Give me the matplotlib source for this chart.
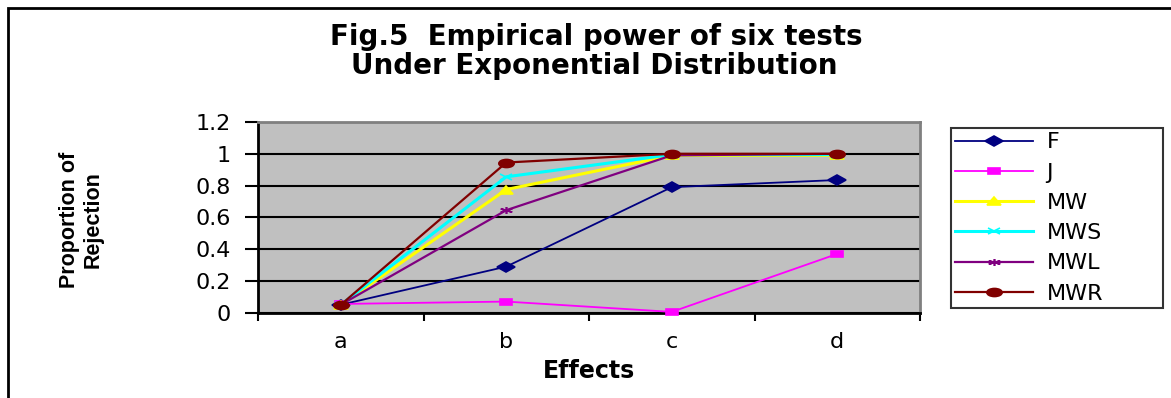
import matplotlib
matplotlib.use("Agg")
import matplotlib.pyplot as plt
from matplotlib.markers import MarkerStyle
from matplotlib.patches import Rectangle
from matplotlib.ticker import FixedLocator
from matplotlib.transforms import Affine2D

effects = ["a", "b", "c", "d"]
series_names = ["F", "J", "MW", "MWS", "MWL", "MWR"]
power_f = [0.05, 0.29, 0.79, 0.835]
power_j = [0.055, 0.07, 0.005, 0.37]
power_mw = [0.05, 0.775, 0.99, 0.99]
power_mws = [0.05, 0.855, 0.995, 0.995]
power_mwl = [0.05, 0.645, 0.99, 1.0]
power_mwr = [0.05, 0.945, 1.0, 1.0]
y_ticks = [0, 0.2, 0.4, 0.6, 0.8, 1.0, 1.2]
y_tick_labels = ["0", "0.2", "0.4", "0.6", "0.8", "1", "1.2"]

plt.rcParams["font.family"] = ["DejaVu Sans"]

W, H = 1171, 398
fig = plt.figure(figsize=(W / 100, H / 100), dpi=100)
fig.patch.set_facecolor("white")

# outer chart frame, runs off the right and bottom edges
fig.patches.append(Rectangle((8 / W, -0.1), 1.2, (H - 8) / H + 0.1,
                             transform=fig.transFigure, fill=False,
                             edgecolor="black", linewidth=2))

ax = fig.add_axes([258 / W, (H - 312.7) / H, (920 - 258) / W, (312.7 - 122) / H])
ax.set_facecolor("#C0C0C0")


def wide(marker):
    # the original picture is stretched sideways, markers included
    return MarkerStyle(marker, transform=Affine2D().scale(1.9, 1.0))


styles = [
    (power_f, "#000080", "D", 4.8, 1.3),
    (power_j, "#FF00FF", "s", 4.8, 1.3),
    (power_mw, "#FFFF00", "^", 5.6, 2.2),
    (power_mws, "#00FFFF", "x", 4.8, 2.2),
    (power_mwl, "#800080", (6, 2, 0), 5.0, 1.6),
    (power_mwr, "#800000", "o", 5.8, 1.6),
]
x = list(range(len(effects)))
for name, (vals, color, marker, ms, lw) in zip(series_names, styles):
    ax.plot(x, vals, color=color, marker=wide(marker), markersize=ms, linewidth=lw,
            markeredgecolor=color, markerfacecolor=color, markeredgewidth=1.2,
            label=name, clip_on=False, zorder=3)

ax.set_xlim(-0.5, 3.5)
ax.set_ylim(0, 1.2)
ax.set_yticks(y_ticks)
ax.set_yticklabels(y_tick_labels)
ax.yaxis.grid(True, color="black", linewidth=1.5)
ax.set_axisbelow(True)
ax.set_xticks(x)
ax.set_xticklabels(effects)
ax.xaxis.set_minor_locator(FixedLocator([-0.5, 0.5, 1.5, 2.5, 3.5]))
ax.tick_params(axis="x", which="major", length=0, pad=14, labelsize=16)
ax.tick_params(axis="x", which="minor", length=6, width=1.5, direction="out")
ax.tick_params(axis="y", length=9.5, width=1.5, direction="out", pad=10, labelsize=16)

for side in ["left", "bottom"]:
    ax.spines[side].set_color("black")
    ax.spines[side].set_linewidth(2)
for side in ["top", "right"]:
    ax.spines[side].set_color("#808080")
    ax.spines[side].set_linewidth(2)

ax.set_xlabel("Effects", fontsize=17, fontweight="bold", labelpad=5)

ylab_y = 0.5 * ((H - 157) + (H - 283)) / H
fig.text(70 / W, ylab_y, "Proportion of", rotation=90, ha="center", va="center",
         fontsize=15.5, family="Liberation Sans", fontweight="bold")
fig.text(93 / W, ylab_y, "Rejection", rotation=90, ha="center", va="center",
         fontsize=15.5, family="Liberation Sans", fontweight="bold")

fig.text(596 / W, (H - 37) / H, "Fig.5  Empirical power of six tests",
         ha="center", va="center", fontsize=20, fontweight="bold")
fig.text(594 / W, (H - 66) / H, "Under Exponential Distribution",
         ha="center", va="center", fontsize=20, fontweight="bold")

leg = fig.legend(loc="upper left",
                 bbox_to_anchor=(951 / W, (H - 304) / H, 212 / W, 176 / H),
                 mode="expand", borderaxespad=0, frameon=True, fancybox=False,
                 fontsize=16, handlelength=3.5, labelspacing=0.46, borderpad=0.2,
                 handletextpad=0.6)
leg.get_frame().set_edgecolor("black")
leg.get_frame().set_linewidth(1.5)

fig.savefig("out.png", dpi=100)
